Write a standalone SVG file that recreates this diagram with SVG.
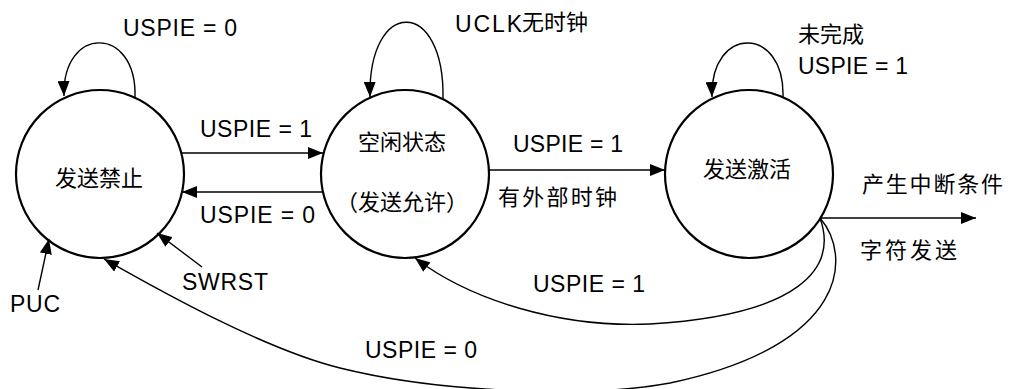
<svg xmlns="http://www.w3.org/2000/svg" width="1010" height="389" viewBox="0 0 1010 389">
<style>
.node{fill:#fff;stroke:#000;stroke-width:2.2}
.edge{fill:none;stroke:#000;stroke-width:1.4}
.lat{font-family:"Liberation Sans",Arial,sans-serif;font-size:23px;fill:#000}
.cjk{font-family:"Noto Sans CJK SC","Noto Sans CJK TC",sans-serif;font-size:22px;fill:#000}
.mid{text-anchor:middle}
</style>
<defs>
<marker id="ah" markerUnits="userSpaceOnUse" markerWidth="16" markerHeight="12" refX="15" refY="6" orient="auto">
<path d="M0,0 L15,6 L0,12 Z" fill="#000"/>
</marker>
</defs>
<rect width="1010" height="389" fill="#fff"/>
<g id="n-disabled">
<circle class="node" cx="100" cy="174" r="84"/>
<text class="cjk mid" x="99" y="186">发送禁止</text>
</g>
<g id="n-idle">
<circle class="node" cx="405" cy="174" r="84"/>
<text class="cjk mid" x="402" y="150">空闲状态</text>
<text class="cjk mid" x="402" y="210">（发送允许）</text>
</g>
<g id="n-active">
<circle class="node" cx="749" cy="174" r="84"/>
<text class="cjk mid" x="747" y="177">发送激活</text>
</g>
<g id="connectors">
<path class="edge" d="M135,97 C137,25 62,25 64,96" marker-end="url(#ah)"/>
<path class="edge" d="M443,99 C445,-3 368,-3 370,97" marker-end="url(#ah)"/>
<path class="edge" d="M783,97 C785,25 710,25 712,97" marker-end="url(#ah)"/>
<path class="edge" d="M182,153 L323,153" marker-end="url(#ah)"/>
<path class="edge" d="M322,192 L182,192" marker-end="url(#ah)"/>
<path class="edge" d="M489,170 L665,170" marker-end="url(#ah)"/>
<path class="edge" d="M820,218 L976,218" marker-end="url(#ah)"/>
<path class="edge" d="M820,218 C838,268 800,315 650,324 C560,328 470,300 415,258" marker-end="url(#ah)"/>
<path class="edge" d="M820,218 C852,255 850,345 670,383 C590,398 440,393 340,368 C260,348 150,285 104,259" marker-end="url(#ah)"/>
<path class="edge" d="M38,290 L49,239" marker-end="url(#ah)"/>
<path class="edge" d="M202,267 L157,233" marker-end="url(#ah)"/>
</g>
<g id="labels">
<text class="lat" x="123" y="36" textLength="114" lengthAdjust="spacing">USPIE = 0</text>
<text class="lat" x="200" y="137" textLength="112" lengthAdjust="spacing">USPIE = 1</text>
<text class="lat" x="200" y="223" textLength="115" lengthAdjust="spacing">USPIE = 0</text>
<text class="lat" x="182" y="290" textLength="86" lengthAdjust="spacing">SWRST</text>
<text class="lat" x="10" y="312" textLength="50" lengthAdjust="spacing">PUC</text>
<text x="455" y="32"><tspan class="lat" textLength="67" lengthAdjust="spacing">UCLK</tspan><tspan class="cjk" x="522" y="30">无时钟</tspan></text>
<text class="lat" x="513" y="152" textLength="110" lengthAdjust="spacing">USPIE = 1</text>
<text class="cjk" x="498" y="205" textLength="119" lengthAdjust="spacing">有外部时钟</text>
<text class="cjk" x="798" y="42">未完成</text>
<text class="lat" x="798" y="74" textLength="110" lengthAdjust="spacing">USPIE = 1</text>
<text class="cjk" x="862" y="192" textLength="141" lengthAdjust="spacing">产生中断条件</text>
<text class="cjk" x="860" y="258" textLength="97" lengthAdjust="spacing">字符发送</text>
<text class="lat" x="533" y="292" textLength="112" lengthAdjust="spacing">USPIE = 1</text>
<text class="lat" x="365" y="358" textLength="112" lengthAdjust="spacing">USPIE = 0</text>
</g>
</svg>
